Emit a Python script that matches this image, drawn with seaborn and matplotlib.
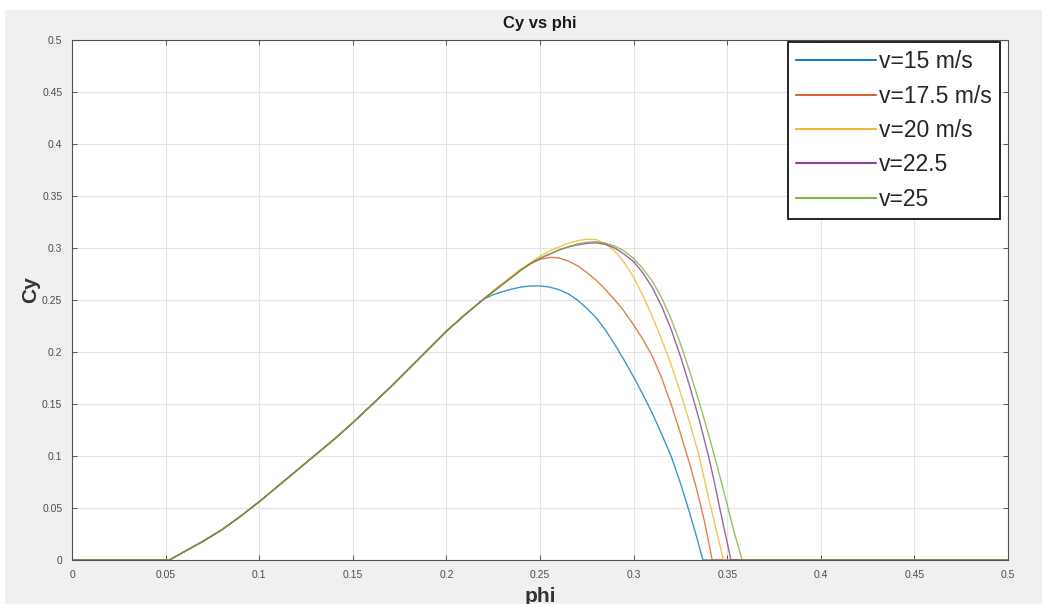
import numpy as np
import pandas as pd
import matplotlib
matplotlib.use("Agg")
import matplotlib.pyplot as plt
from matplotlib.patches import Rectangle
import seaborn as sns

# Shared rising branch of the Cy(phi) curves (identical for every speed)
phi_rise = [0.000, 0.052, 0.060, 0.070, 0.080, 0.090, 0.100, 0.110, 0.120,
            0.130, 0.140, 0.150, 0.160, 0.170, 0.180, 0.190, 0.200, 0.210, 0.220]
cy_rise = [0.000, 0.000, 0.008, 0.018, 0.029, 0.042, 0.056, 0.071, 0.086,
           0.101, 0.116, 0.132, 0.149, 0.166, 0.184, 0.202, 0.220, 0.236, 0.251]

# Speed-dependent branches after the common rise
phi_v15 = [0.225, 0.23, 0.235, 0.24, 0.245, 0.25, 0.255, 0.26, 0.265, 0.27, 0.275,
           0.28, 0.285, 0.29, 0.295, 0.30, 0.305, 0.31, 0.315, 0.32, 0.325, 0.33,
           0.334, 0.337, 0.50]
cy_v15 = [0.255, 0.258, 0.2605, 0.2625, 0.2635, 0.2635, 0.2625, 0.260, 0.256, 0.250,
          0.242, 0.233, 0.221, 0.207, 0.192, 0.176, 0.159, 0.141, 0.121, 0.100,
          0.074, 0.045, 0.020, 0.0, 0.0]

phi_v175 = [0.225, 0.23, 0.235, 0.24, 0.245, 0.25, 0.255, 0.26, 0.265, 0.27, 0.275,
            0.28, 0.285, 0.29, 0.295, 0.30, 0.305, 0.31, 0.315, 0.32, 0.325, 0.33,
            0.334, 0.338, 0.342, 0.50]
cy_v175 = [0.258, 0.265, 0.272, 0.279, 0.285, 0.289, 0.291, 0.2905, 0.2875, 0.283,
           0.2765, 0.269, 0.260, 0.250, 0.239, 0.226, 0.212, 0.196, 0.175, 0.150,
           0.122, 0.092, 0.066, 0.036, 0.0, 0.0]

phi_v20 = [0.225, 0.23, 0.235, 0.24, 0.245, 0.25, 0.255, 0.26, 0.265, 0.27, 0.275,
           0.28, 0.285, 0.29, 0.295, 0.30, 0.305, 0.31, 0.315, 0.32, 0.325, 0.33,
           0.335, 0.34, 0.344, 0.348, 0.50]
cy_v20 = [0.259, 0.266, 0.273, 0.280, 0.286, 0.292, 0.297, 0.301, 0.3045, 0.307,
          0.3085, 0.308, 0.304, 0.297, 0.286, 0.272, 0.254, 0.234, 0.212, 0.188,
          0.161, 0.132, 0.100, 0.060, 0.030, 0.0, 0.0]

phi_v225 = [0.225, 0.23, 0.235, 0.24, 0.245, 0.25, 0.255, 0.26, 0.265, 0.27, 0.275,
            0.28, 0.285, 0.29, 0.295, 0.30, 0.305, 0.31, 0.315, 0.32, 0.325, 0.33,
            0.335, 0.34, 0.343, 0.346, 0.349, 0.352, 0.50]
cy_v225 = [0.258, 0.265, 0.272, 0.279, 0.285, 0.290, 0.294, 0.298, 0.301, 0.303,
           0.3045, 0.305, 0.3035, 0.300, 0.294, 0.287, 0.276, 0.262, 0.244, 0.222,
           0.196, 0.167, 0.135, 0.100, 0.076, 0.050, 0.025, 0.0, 0.0]

phi_v25 = [0.225, 0.23, 0.235, 0.24, 0.245, 0.25, 0.255, 0.26, 0.265, 0.27, 0.275,
           0.28, 0.285, 0.29, 0.295, 0.30, 0.305, 0.31, 0.315, 0.32, 0.325, 0.33,
           0.335, 0.34, 0.345, 0.35, 0.354, 0.358, 0.50]
cy_v25 = [0.258, 0.265, 0.272, 0.279, 0.285, 0.290, 0.294, 0.298, 0.301, 0.304,
          0.3055, 0.306, 0.3045, 0.302, 0.297, 0.290, 0.280, 0.268, 0.252, 0.232,
          0.208, 0.181, 0.152, 0.121, 0.088, 0.053, 0.025, 0.0, 0.0]

labels = ["v=15 m/s", "v=17.5 m/s", "v=20 m/s", "v=22.5", "v=25"]
colors = ["#0072BD", "#D95319", "#EDB120", "#7E2F8E", "#77AC30"]
ticks = [0, 0.05, 0.1, 0.15, 0.2, 0.25, 0.3, 0.35, 0.4, 0.45, 0.5]
tick_labels = ["0", "0.05", "0.1", "0.15", "0.2", "0.25", "0.3", "0.35", "0.4", "0.45", "0.5"]

tails = [(phi_v15, cy_v15), (phi_v175, cy_v175), (phi_v20, cy_v20),
         (phi_v225, cy_v225), (phi_v25, cy_v25)]

frames = []
for lab, (px, py) in zip(labels, tails):
    x = list(phi_rise) + list(px)
    y = list(cy_rise) + list(py)
    frames.append(pd.DataFrame({"phi": x, "Cy": y, "speed": lab}))
df = pd.concat(frames, ignore_index=True)

sns.set_style("white")
plt.rcParams["font.family"] = ["Liberation Sans", "DejaVu Sans"]

fig = plt.figure(figsize=(10.51, 6.04), dpi=100)
fig.patch.set_facecolor("white")
# grey panel behind the axes
fig.patches.append(Rectangle((5 / 1051, 0), 1037 / 1051, 594 / 604,
                             transform=fig.transFigure, facecolor="#f0f0f0",
                             edgecolor="none", zorder=-10))

ax = fig.add_axes([72 / 1051, 44 / 604, 936 / 1051, 520 / 604])
ax.set_facecolor("white")

sns.lineplot(data=df, x="phi", y="Cy", hue="speed", hue_order=labels,
             palette=colors, sort=False, estimator=None, units="speed",
             linewidth=1.0, alpha=0.75, ax=ax, legend=True)

ax.set_xlim(0, 0.5)
ax.set_ylim(0, 0.5)
ax.set_xticks(ticks)
ax.set_xticklabels(tick_labels)
ax.set_yticks(ticks)
ax.set_yticklabels(tick_labels)
ax.grid(True, color="#e3e3e3", linewidth=0.8)
ax.set_axisbelow(True)
ax.tick_params(direction="in", length=3.5, width=0.7, color="#555555",
               labelsize=7.5, labelcolor="#4d4d4d", pad=7,
               top=True, right=True, bottom=True, left=True)
for s in ax.spines.values():
    s.set_color("#505050")
    s.set_linewidth(0.8)

ax.set_title("Cy vs phi", fontsize=12, fontweight="bold", color="#1a1a1a",
             y=1.032, pad=0, va="center")
ax.set_xlabel("phi", fontsize=15, fontweight="bold", color="#333333")
ax.xaxis.set_label_coords(0.5, -0.052)
ax.set_ylabel("Cy", fontsize=15, fontweight="bold", color="#333333")
ax.yaxis.set_label_coords(-0.034, 0.52)

handles, _ = ax.get_legend_handles_labels()
leg = ax.legend(handles[:len(labels)], labels, loc="upper right",
                bbox_to_anchor=(0.9915, 0.996), fontsize=16.5, frameon=True,
                fancybox=False, edgecolor="black", framealpha=1,
                handlelength=3.5, handletextpad=0.13, labelspacing=0.5,
                borderpad=0.35, borderaxespad=0)
leg.get_frame().set_linewidth(1.2)
for line in leg.get_lines():
    line.set_linewidth(1.5)
    line.set_alpha(0.9)

fig.savefig("out.png", dpi=100)
